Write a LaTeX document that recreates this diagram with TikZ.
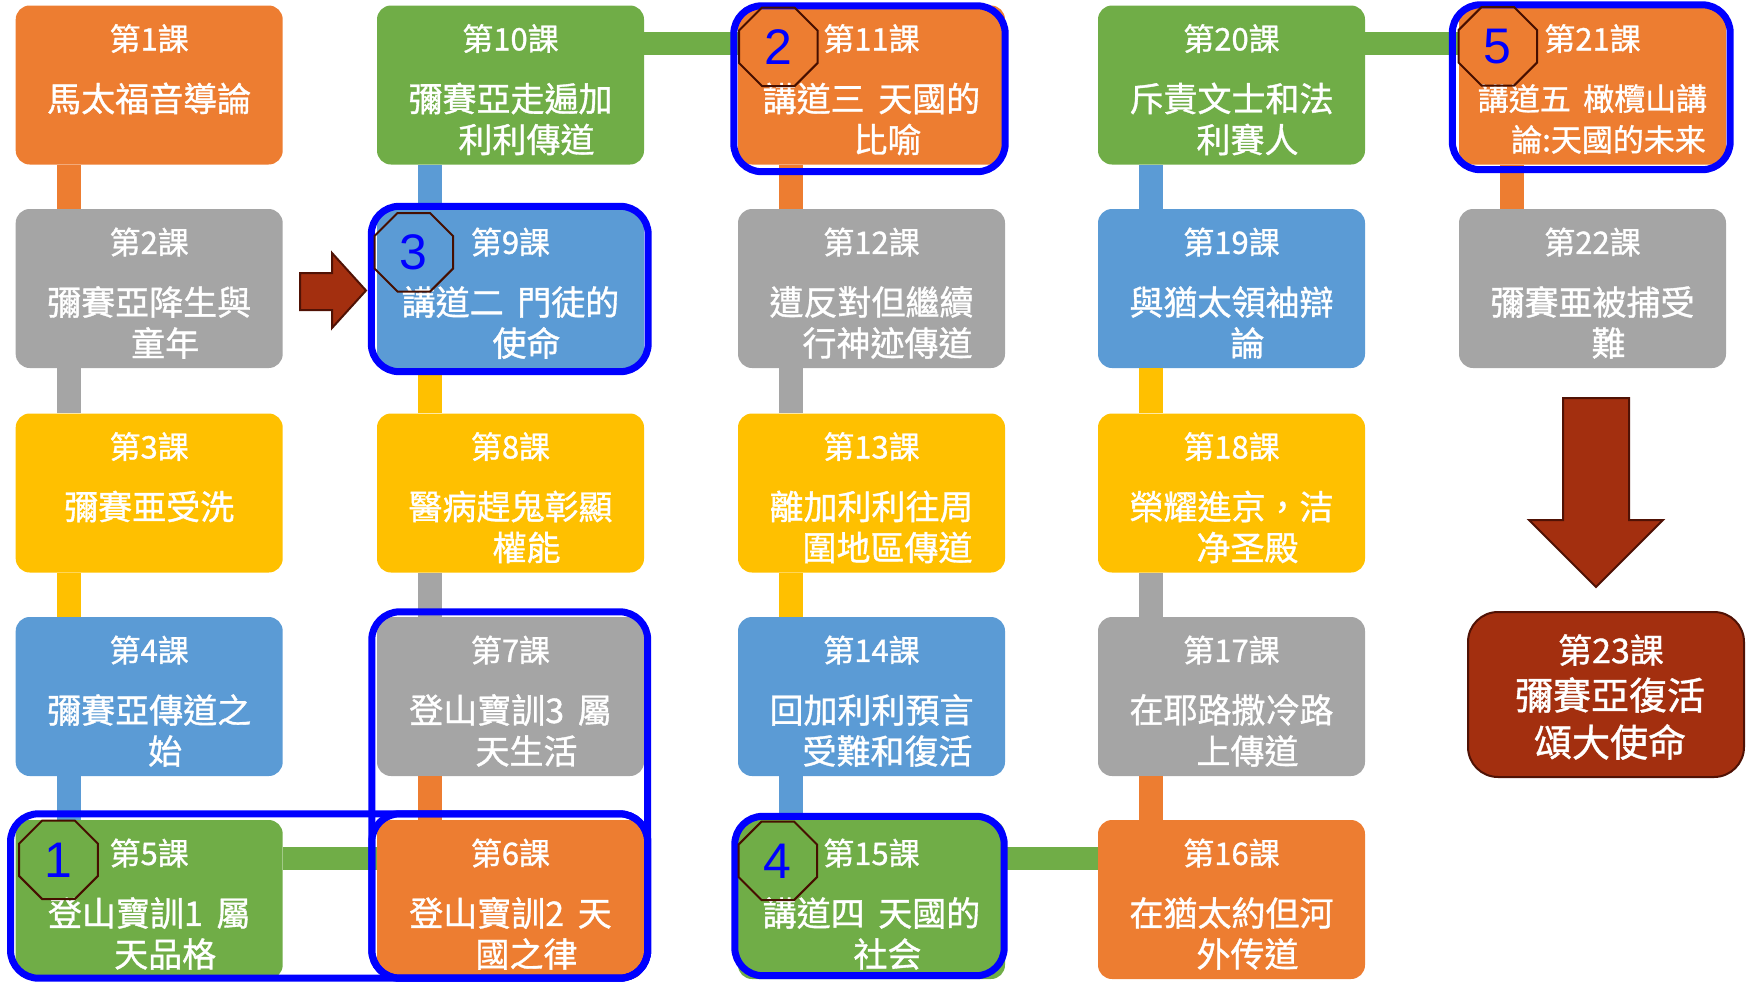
\documentclass[tikz,border=0pt]{standalone}
\usepackage{fontspec}
\setmainfont{Liberation Sans}
\newfontfamily\cjk{Noto Sans CJK TC}[FakeBold=1]
\usetikzlibrary{shapes.geometric,calc}
\definecolor{cOr}{HTML}{ED7D31}
\definecolor{cGr}{HTML}{A5A5A5}
\definecolor{cYe}{HTML}{FFC000}
\definecolor{cBl}{HTML}{5B9BD5}
\definecolor{cGn}{HTML}{70AD47}
\definecolor{cRed}{RGB}{163,47,15}
\definecolor{cDark}{RGB}{80,18,5}
\definecolor{hlblue}{RGB}{0,0,255}
\definecolor{octc}{RGB}{70,15,0}
\tikzset{
  lbox/.style={rectangle, rounded corners=14pt, minimum width=267pt, minimum height=159pt, inner sep=0pt},
  ttl/.style={text=white, font=\cjk\fontsize{31}{31}\selectfont, inner sep=0pt},
  dsc/.style={text=white, font=\cjk\fontsize{34}{34}\selectfont, inner sep=0pt},
  dscs/.style={text=white, font=\cjk\fontsize{31}{31}\selectfont, inner sep=0pt},
  big/.style={text=white, font=\cjk\fontsize{38}{38}\selectfont, inner sep=0pt},
  hl/.style={draw=hlblue, line width=7pt, rounded corners=28pt},
  oct/.style={regular polygon, regular polygon sides=8, minimum size=85pt, draw=octc, line width=2pt, inner sep=0pt, text=hlblue, font=\fontsize{50}{50}\selectfont},
  blockarrow/.style={fill=cRed, draw=cDark, line width=2pt, line join=miter},
}
\newcommand\lesson[8][dsc]{%
  \node[lbox, fill=#5] (#2) at (#3+133.5, #4+79.5) {};
  \node[ttl] (#2t) at (#3+133.5, #4+33) {#6};
  \node[#1] (#2a) at (#3+133.5, #4+93) {#7};
  \node[#1] (#2b) at (#3+149.5, #4+134) {#8};
}
\newcommand\vconn[3]{\fill[#1] ($(#2.south west)+(41,0)$) rectangle ($(#3.north west)+(65,0)$);}
\newcommand\hconn[3]{\fill[#1] ($(#2.north east)+(0,27)$) rectangle ($(#3.north west)+(0,50)$);}
\newcommand\gap{\hspace{0.4em}}
\begin{document}
\begin{tikzpicture}[x=1pt, y=-1pt]
\useasboundingbox (0,0) rectangle (1754,983);
% column 1
\lesson{b1}{15.7}{5.5}{cOr}{第1課}{馬太福音導論}{}
\lesson{b2}{15.7}{209}{cGr}{第2課}{彌賽亞降生與}{童年}
\lesson{b3}{15.7}{413.5}{cYe}{第3課}{彌賽亜受洗}{}
\lesson{b4}{15.7}{617}{cBl}{第4課}{彌賽亞傳道之}{始}
\lesson{b5}{15.7}{820}{cGn}{第5課}{登山寶訓1\gap 屬}{天品格}
% column 2
\lesson{b10}{377}{5.5}{cGn}{第10課}{彌賽亞走遍加}{利利傳道}
\lesson{b9}{377}{209}{cBl}{第9課}{講道二\gap 門徒的}{使命}
\lesson{b8}{377}{413.5}{cYe}{第8課}{醫病趕鬼彰顯}{權能}
\lesson{b7}{377}{617}{cGr}{第7課}{登山寶訓3\gap 屬}{天生活}
\lesson{b6}{377}{820}{cOr}{第6課}{登山寶訓2\gap 天}{國之律}
% column 3
\lesson{b11}{738}{5.5}{cOr}{第11課}{講道三\gap 天國的}{比喻}
\lesson{b12}{738}{209}{cGr}{第12課}{遭反對但繼續}{行神迹傳道}
\lesson{b13}{738}{413.5}{cYe}{第13課}{離加利利往周}{圍地區傳道}
\lesson{b14}{738}{617}{cBl}{第14課}{回加利利預言}{受難和復活}
\lesson{b15}{738}{820}{cGn}{第15課}{講道四\gap 天國的}{社会}
% column 4
\lesson{b20}{1098}{5.5}{cGn}{第20課}{斥責文士和法}{利賽人}
\lesson{b19}{1098}{209}{cBl}{第19課}{與猶太領袖辯}{論}
\lesson{b18}{1098}{413.5}{cYe}{第18課}{榮耀進京，洁}{净圣殿}
\lesson{b17}{1098}{617}{cGr}{第17課}{在耶路撒冷路}{上傳道}
\lesson{b16}{1098}{820}{cOr}{第16課}{在猶太約但河}{外传道}
% column 5
\lesson[dscs]{b21}{1459}{5.5}{cOr}{第21課}{講道五\gap 橄欖山講}{論:天國的未来}
\lesson{b22}{1459}{209}{cGr}{第22課}{彌賽亜被捕受}{難}
% lesson 23
\node[lbox, fill=cRed, draw=cDark, line width=2pt, minimum width=276pt, minimum height=165pt, rounded corners=30pt] (b23) at (1606,694.5) {};
\node[ttl, font=\cjk\fontsize{34}{34}\selectfont] (b23t) at (1611,650) {第23課};
\node[big] (b23a) at (1610,695) {彌賽亞復活};
\node[big] (b23b) at (1610,742) {頌大使命};
% connectors
\vconn{cOr}{b1}{b2}
\vconn{cGr}{b2}{b3}
\vconn{cYe}{b3}{b4}
\vconn{cBl}{b4}{b5}
\hconn{cGn}{b5}{b6}
\vconn{cBl}{b10}{b9}
\vconn{cYe}{b9}{b8}
\vconn{cGr}{b8}{b7}
\vconn{cOr}{b7}{b6}
\hconn{cGn}{b10}{b11}
\vconn{cOr}{b11}{b12}
\vconn{cGr}{b12}{b13}
\vconn{cYe}{b13}{b14}
\vconn{cBl}{b14}{b15}
\hconn{cGn}{b15}{b16}
\vconn{cBl}{b20}{b19}
\vconn{cYe}{b19}{b18}
\vconn{cGr}{b18}{b17}
\vconn{cOr}{b17}{b16}
\hconn{cGn}{b20}{b21}
\vconn{cOr}{b21}{b22}
% block arrows
\draw[blockarrow] (300,273) -- (332,273) -- (332,253) -- (366,290.5) -- (332,328) -- (332,310) -- (300,310) -- cycle;
\draw[blockarrow] (1563,398) -- (1629,398) -- (1629,520) -- (1663,520) -- (1596,587) -- (1529,520) -- (1563,520) -- cycle;
% highlights
\draw[hl] ($(b11.north west)+(-4,0.5)$) rectangle ($(b11.south east)+(0,7)$);
\draw[hl] ($(b9.north west)+(-5.5,-2.5)$) rectangle ($(b9.south east)+(4,3.5)$);
\draw[hl] ($(b21.north west)+(-6.5,-0.5)$) rectangle ($(b21.south east)+(4,5)$);
\draw[hl] ($(b15.north west)+(-3,-3.5)$) rectangle ($(b15.south east)+(-1,-3.5)$);
\draw[hl] ($(b7.north west)+(-5,-5)$) rectangle ($(b6.south east)+(3.5,-1)$);
\draw[hl] ($(b6.north west)+(-5,-6)$) rectangle ($(b6.south east)+(3.5,-1)$);
\draw[hl] ($(b5.north west)+(-5,-6)$) rectangle ($(b6.south east)+(3.5,-1)$);
% numbered octagons
\node[oct] (o1) at ($(b5.north west)+(43,40)$) {1};
\node[oct] (o2) at ($(b11.north west)+(40.5,41.5)$) {2};
\node[oct] (o3) at ($(b9.north west)+(37,43.5)$) {3};
\node[oct] (o4) at ($(b15.north west)+(40,41)$) {4};
\node[oct] (o5) at ($(b21.north west)+(39,41)$) {5};
\end{tikzpicture}
\end{document}
